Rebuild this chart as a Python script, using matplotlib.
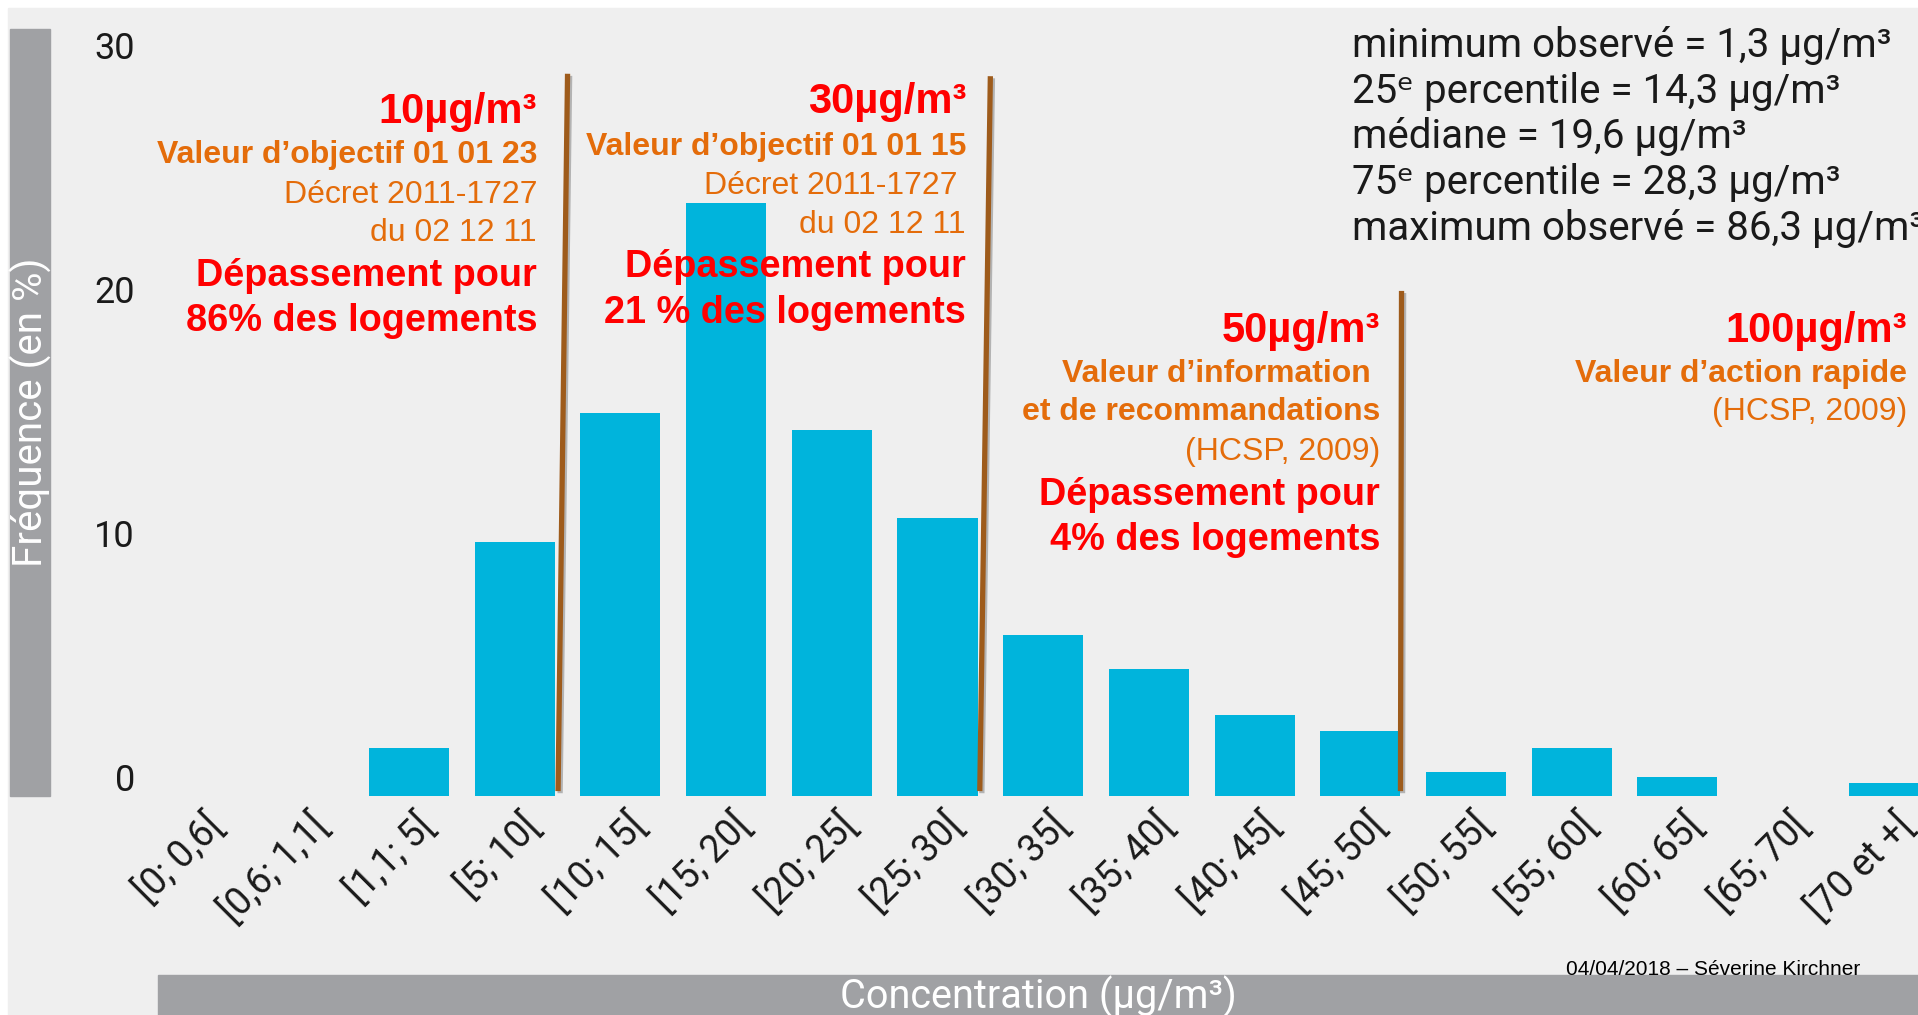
import matplotlib
matplotlib.use("Agg")
import matplotlib.pyplot as plt
from matplotlib.patches import Rectangle
from matplotlib.transforms import ScaledTranslation
import matplotlib.patheffects as pe

# classes de concentration (µg/m3) et fréquence (%)
categories = ["[0; 0,6[", "[0,6; 1,1[", "[1,1; 5[", "[5; 10[", "[10; 15[", "[15; 20[",
              "[20; 25[", "[25; 30[", "[30; 35[", "[35; 40[", "[40; 45[", "[45; 50[",
              "[50; 55[", "[55; 60[", "[60; 65[", "[65; 70[", "[70 et +["]
frequence = [0, 0, 1.95, 10.4, 15.7, 24.3, 15.0, 11.4, 6.6, 5.2, 3.3, 2.65,
             1.0, 1.95, 0.78, 0, 0.55]
yticks = [0, 10, 20, 30]

# seuils : première classe au-dessus du seuil
seuil_classes = ["[10; 15[", "[30; 35[", "[50; 55["]

stats = ["minimum observé = 1,3 µg/m³",
         "25ᵉ percentile = 14,3 µg/m³",
         "médiane = 19,6 µg/m³",
         "75ᵉ percentile = 28,3 µg/m³",
         "maximum observé = 86,3 µg/m³"]

RED = "#FF0000"
ORANGE = "#E46C0A"
BROWN = "#9E5B1B"
BLUE = "#00B4DC"
GREY = "#A0A1A4"
BG = "#EFEFEF"
DIN = ["Roboto", "DejaVu Sans"]
SANS = ["Liberation Sans", "DejaVu Sans"]

W, H = 1918, 1015
fig = plt.figure(figsize=(W / 100, H / 100), dpi=100)
fig.patch.set_facecolor("white")


def fx(px):
    return px / W


def fy(py):
    return 1 - py / H


fig.add_artist(Rectangle((fx(8), 0), 1, fy(8), transform=fig.transFigure,
                         color=BG, zorder=-2))
fig.add_artist(Rectangle((fx(10), fy(796)), fx(40), (796 - 29) / H,
                         transform=fig.transFigure, color=GREY, zorder=-1))
fig.add_artist(Rectangle((fx(158), 0), 1, (1015 - 975) / H,
                         transform=fig.transFigure, color=GREY, zorder=-1))
fig.text(fx(31), fy(412), "Fréquence (en %)", rotation=90, color="white",
         ha="center", va="center", fontsize=29, family=DIN)
fig.text(fx(1038), fy(1009), "Concentration (µg/m³)", color="white",
         ha="center", va="baseline", fontsize=28.5, family=DIN)

px_per_cat = 105.7
x0_px = 197.6
ax = fig.add_axes([fx(150), fy(796), (1918 - 150) / W, (796 - 8) / H])
ax.patch.set_alpha(0)
x = list(range(len(categories)))
ax.bar(x, frequence, width=0.757, color=BLUE, zorder=2)
ax.set_xlim((150 - x0_px) / px_per_cat, (1918 - x0_px) / px_per_cat)
ax.set_ylim(0, (796 - 8) / 24.4)
for s in ax.spines.values():
    s.set_visible(False)
ax.set_xticks(x)
ax.set_xticklabels(categories, rotation=45, ha="right", va="top",
                   rotation_mode="anchor", fontsize=27, family=DIN, color="#1A1A1A")
ax.set_yticks(yticks)
ax.set_yticklabels([str(v) for v in yticks], fontsize=26, family=DIN, color="#1A1A1A")
ax.tick_params(axis="both", length=0)
ax.tick_params(axis="x", pad=8)
ax.tick_params(axis="y", pad=10.8)
for lab in ax.get_yticklabels():
    lab.set_transform(lab.get_transform() + ScaledTranslation(0, 0.19, fig.dpi_scale_trans))
for lab in ax.get_xticklabels():
    lab.set_transform(lab.get_transform() + ScaledTranslation(0.06, 0, fig.dpi_scale_trans))

# lignes de seuil (légèrement inclinées comme sur l'original)
tops = [29.6, 29.5, 20.7]
nudge = [0.0, 0.0, -0.11]
tilt = [-0.09, -0.10, -0.01]
for cls, top, nd, tl in zip(seuil_classes, tops, nudge, tilt):
    xb = categories.index(cls) - 0.5 + nd
    ax.plot([xb, xb + tl], [top, 0.2], color=BROWN, lw=3.8, zorder=3,
            solid_capstyle="butt",
            path_effects=[pe.SimpleLineShadow(offset=(1.5, -1.5), alpha=0.25),
                          pe.Normal()])

# statistiques
for i, s in enumerate(stats):
    fig.text(fx(1352), fy(57 + 45.7 * i), s, fontsize=29, color="#1A1A1A",
             family=DIN, va="baseline", ha="left")


def bloc(xr, lines):
    for txt, yb, col, bold, size in lines:
        fig.text(fx(xr), fy(yb), txt, color=col, fontsize=size, ha="right",
                 va="baseline", family=SANS,
                 fontweight="bold" if bold else "normal", zorder=5)


bloc(537, [("10µg/m³", 123, RED, True, 30),
           ("Valeur d’objectif 01 01 23", 163, ORANGE, True, 23),
           ("Décret 2011-1727", 203, ORANGE, False, 23),
           ("du 02 12 11", 241, ORANGE, False, 23),
           ("Dépassement pour", 286, RED, True, 27.3),
           ("86% des logements", 331, RED, True, 27.3)])
bloc(966, [("30µg/m³", 113, RED, True, 30),
           ("Valeur d’objectif 01 01 15", 155, ORANGE, True, 23),
           ("Décret 2011-1727 ", 194, ORANGE, False, 23),
           ("du 02 12 11", 233, ORANGE, False, 23),
           ("Dépassement pour", 277, RED, True, 27.3),
           ("21 % des logements", 323, RED, True, 27.3)])
bloc(1380, [("50µg/m³", 342, RED, True, 30),
            ("Valeur d’information ", 382, ORANGE, True, 23),
            ("et de recommandations", 420, ORANGE, True, 23),
            ("(HCSP, 2009)", 460, ORANGE, False, 23),
            ("Dépassement pour", 505, RED, True, 27.3),
            ("4% des logements", 550, RED, True, 27.3)])
bloc(1907, [("100µg/m³", 342, RED, True, 30),
            ("Valeur d’action rapide", 382, ORANGE, True, 23),
            ("(HCSP, 2009)", 420, ORANGE, False, 23)])

fig.text(fx(1566), fy(975), "04/04/2018 – Séverine Kirchner", fontsize=15,
         family=SANS, color="black", va="baseline", ha="left")

fig.savefig("out.png", dpi=100, facecolor=fig.get_facecolor())
